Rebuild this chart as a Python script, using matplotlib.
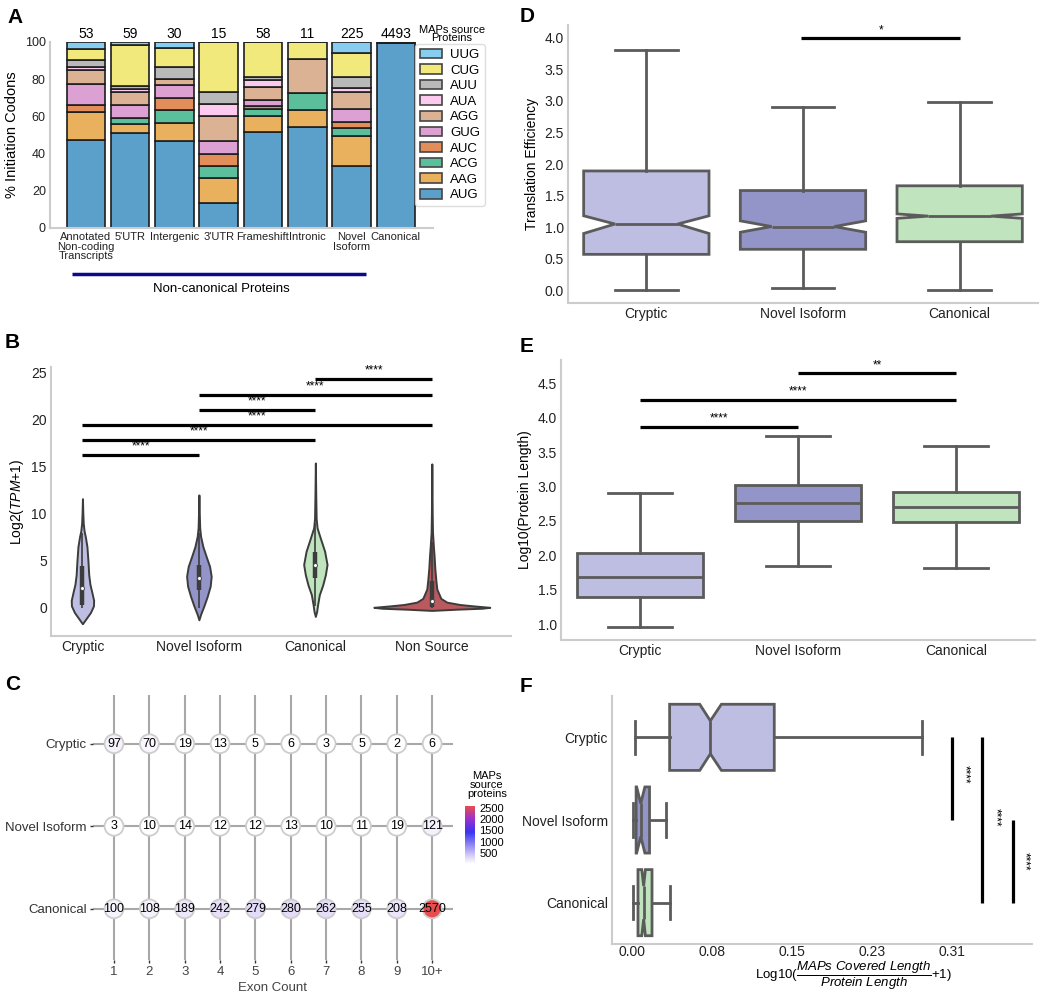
import numpy as np
import matplotlib
matplotlib.use("Agg")
import matplotlib.pyplot as plt
from matplotlib.colors import LinearSegmentedColormap, Normalize
from matplotlib.cm import ScalarMappable
from matplotlib.patches import Patch

W, H = 1050, 997

plt.rcParams['font.family'] = ['Liberation Sans', 'DejaVu Sans']
plt.rcParams['mathtext.fontset'] = 'custom'
plt.rcParams['mathtext.rm'] = 'Liberation Sans'
plt.rcParams['mathtext.it'] = 'Liberation Sans:italic'
plt.rcParams['mathtext.bf'] = 'Liberation Sans:bold'

# ---- A: initiation codons per source category (protein counts) ----
source_groups = ["Annotated\nNon-coding\nTranscripts", "5'UTR", "Intergenic", "3'UTR",
                 "Frameshift", "Intronic", "Novel\nIsoform", "Canonical"]
codons = ["AUG", "AAG", "ACG", "AUC", "GUG", "AGG", "AUA", "AUU", "CUG", "UUG"]
aug = [25, 30, 14, 2, 30, 6, 75, 4460]
aag = [8, 3, 3, 2, 5, 1, 36, 5]
acg = [0, 2, 2, 1, 2, 1, 10, 3]
auc = [2, 0, 2, 1, 1, 0, 7, 2]
gug = [6, 4, 2, 1, 2, 0, 16, 5]
agg = [4, 4, 1, 2, 4, 2, 21, 3]
aua = [1, 1, 0, 1, 2, 0, 4, 2]
auu = [2, 1, 2, 1, 1, 0, 14, 3]
cug = [3, 13, 3, 4, 11, 1, 29, 8]
uug = [2, 1, 1, 0, 0, 0, 13, 2]
codon_colors = ["#5b9fcb", "#e9b05e", "#5cbf9c", "#e38e5a", "#dda0d2",
                "#dbb394", "#fbcaee", "#b9b9b9", "#f1e97c", "#86cdf0"]

# ---- B: expression violins (shape read as half-widths, px) ----
tpm_groups = ["Cryptic", "Novel Isoform", "Canonical", "Non Source"]
cryptic_tpm_y = [-1.7, -1.1, -0.5, 0.2, 0.8, 1.6, 2.5, 3.5, 5.0, 6.5, 7.5, 8.2, 9.0, 10.0, 11.6]
cryptic_tpm_w = [0, 4.0, 8.0, 11.0, 11.2, 9.5, 7.5, 6.3, 5.5, 4.5, 3.0, 1.6, 0.8, 0.4, 0]
novel_tpm_y = [-1.28, -0.7, 0.2, 1.2, 2.3, 3.35, 4.4, 5.45, 6.5, 7.6, 8.5, 10.0, 12.0]
novel_tpm_w = [0, 1.7, 5.0, 8.3, 11.3, 12.3, 10.7, 7.3, 4.0, 1.7, 0.8, 0.4, 0]
canonical_tpm_y = [-0.92, -0.4, 0.36, 1.4, 2.4, 3.5, 4.6, 6.0, 7.4, 8.5, 9.5, 12.0, 15.4]
canonical_tpm_w = [0, 1.3, 2.3, 4.0, 7.3, 10.0, 11.7, 9.3, 5.0, 1.7, 0.8, 0.4, 0]
nonsource_tpm_y = [-0.28, -0.15, -0.05, 0.05, 0.2, 0.35, 0.6, 1.0, 2.0, 3.0, 4.2, 5.5, 6.5, 8.0, 10.0, 15.3]
nonsource_tpm_w = [0, 25, 50, 58, 42, 28, 15, 9, 5, 4, 3, 2.3, 1.6, 0.7, 0.4, 0]
tpm_px_per_group = 116.5
tpm_q1 = [0.25, 1.9, 3.2, 0.05]
tpm_med = [2.15, 3.2, 4.5, 0.75]
tpm_q3 = [4.4, 4.5, 5.9, 2.8]
tpm_lo = [0.0, 0.0, 0.2, 0.0]
tpm_hi = [8.0, 8.0, 9.0, 7.0]
tpm_sig = [(0, 1, 16.2), (0, 2, 17.8), (0, 3, 19.4), (1, 2, 21.0), (1, 3, 22.6), (2, 3, 24.3)]
group_colors = ["#bdbee2", "#9394c8", "#bfe4be", "#bb5a5e"]

# ---- C: exon count ----
exon_labels = ["1", "2", "3", "4", "5", "6", "7", "8", "9", "10+"]
cryptic_exons = [97, 70, 19, 13, 5, 6, 3, 5, 2, 6]
novel_exons = [3, 10, 14, 12, 12, 13, 10, 11, 19, 121]
canonical_exons = [100, 108, 189, 242, 279, 280, 262, 255, 208, 2570]

# ---- D: translation efficiency (box stats) ----
box_groups = ["Cryptic", "Novel Isoform", "Canonical"]
te_whislo = [0.0, 0.04, 0.0]
te_q1 = [0.57, 0.65, 0.77]
te_med = [1.05, 1.01, 1.175]
te_q3 = [1.89, 1.58, 1.655]
te_whishi = [3.8, 2.9, 2.975]
te_cilo = [0.90, 0.92, 1.14]
te_cihi = [1.18, 1.10, 1.21]

# ---- E: protein length ----
len_whislo = [0.96, 1.85, 1.82]
len_q1 = [1.39, 2.50, 2.48]
len_med = [1.68, 2.76, 2.70]
len_q3 = [2.03, 3.02, 2.92]
len_whishi = [2.90, 3.73, 3.59]
len_sig = [(0, 1, 3.87, "****"), (0, 2, 4.26, "****"), (1, 2, 4.65, "**")]

# ---- F: MAPs coverage ----
cov_whislo = [0.003, 0.001, 0.001]
cov_q1 = [0.0365, 0.004, 0.0058]
cov_med = [0.076, 0.0085, 0.0113]
cov_q3 = [0.138, 0.017, 0.0194]
cov_whishi = [0.2816, 0.033, 0.0364]
cov_cilo = [0.0657, 0.0045, 0.0095]
cov_cihi = [0.0867, 0.0125, 0.013]
cov_ticks = [0.0, 0.0775, 0.155, 0.2325, 0.31]
cov_sig = [(0, 1, 0.3107, 0.322, 0.45), (0, 2, 0.3398, 0.352, 0.97), (1, 2, 0.3696, 0.381, 1.5)]

EDGE = "#5b5b5b"


def add_px_axes(fig, left, top, right, bottom):
    return fig.add_axes([left / W, 1 - bottom / H, (right - left) / W, (bottom - top) / H])


def clean_axes(ax, size=10):
    for s in ["top", "right"]:
        ax.spines[s].set_visible(False)
    for s in ["left", "bottom"]:
        ax.spines[s].set_color("#cccccc")
        ax.spines[s].set_linewidth(1.5)
    ax.tick_params(length=0, labelsize=size, colors="#222222", pad=3)


def plot_codons(fig):
    ax = add_px_axes(fig, 50, 42, 433, 228)
    clean_axes(ax, 9)
    counts = np.array([aug, aag, acg, auc, gug, agg, aua, auu, cug, uug], dtype=float)
    totals = counts.sum(axis=0)
    pct = counts / totals * 100
    x = np.arange(len(source_groups))
    bottom = np.zeros(len(x))
    for vals, col in zip(pct, codon_colors):
        ax.bar(x, vals, bottom=bottom, width=0.87, color=col, edgecolor="#1e1e1e", linewidth=1.2)
        bottom += vals
    for i, t in enumerate(totals):
        ax.text(i, 100.6, f"{int(t)}", ha="center", va="bottom", fontsize=10)
    ax.set_xlim(-0.81, 7.84)
    ax.set_ylim(0, 100)
    ax.set_xticks(x)
    ax.set_xticklabels(source_groups, fontsize=8, linespacing=0.95)
    ax.set_yticks(range(0, 101, 20))
    ax.set_ylabel("% Initiation Codons", fontsize=10.5, labelpad=4)

    handles = [Patch(facecolor=c, edgecolor="#444444", linewidth=1.2) for c in codon_colors][::-1]
    leg = ax.legend(handles, codons[::-1], loc="upper left", bbox_to_anchor=(415 / W, 1 - 44 / H),
                    bbox_transform=fig.transFigure, fontsize=9.5, handlelength=1.7, handleheight=0.75,
                    labelspacing=0.24, handletextpad=0.6, borderpad=0.35, borderaxespad=0,
                    frameon=True, fancybox=True)
    leg.get_frame().set_edgecolor("#d6d6d6")
    fig.text(452 / W, 1 - 34 / H, "MAPs source\nProteins", ha="center", va="center",
             fontsize=8, linespacing=0.85)

    trans = ax.get_xaxis_transform()
    ax.plot([-0.32, 6.33], [-0.245, -0.245], color="#0a0a8a", lw=2.5, transform=trans,
            clip_on=False, solid_capstyle="butt")
    ax.text(3.07, -0.33, "Non-canonical Proteins", ha="center", va="center", fontsize=9.5,
            transform=trans)


def plot_tpm(fig):
    ax = add_px_axes(fig, 51, 367, 511, 636)
    clean_axes(ax, 10)
    shapes = [(cryptic_tpm_y, cryptic_tpm_w), (novel_tpm_y, novel_tpm_w),
              (canonical_tpm_y, canonical_tpm_w), (nonsource_tpm_y, nonsource_tpm_w)]
    stats, widths = [], []
    for i, (ys, ws) in enumerate(shapes):
        stats.append(dict(coords=np.array(ys), vals=np.array(ws, dtype=float), mean=tpm_med[i],
                          median=tpm_med[i], min=min(ys), max=max(ys)))
        widths.append(2 * max(ws) / tpm_px_per_group)
    pos = np.arange(len(tpm_groups))
    parts = ax.violin(stats, positions=pos, widths=widths, showmeans=False,
                      showextrema=False, showmedians=False)
    for body, col in zip(parts["bodies"], group_colors):
        body.set_facecolor(col)
        body.set_edgecolor("#3c3c3c")
        body.set_linewidth(1.4)
        body.set_alpha(1)
    ax.vlines(pos, tpm_lo, tpm_hi, color="#3c3c3c", lw=1.2, zorder=3)
    ax.vlines(pos, tpm_q1, tpm_q3, color="#3c3c3c", lw=3.2, zorder=3)
    ax.scatter(pos, tpm_med, s=8, color="white", edgecolor="#3c3c3c", linewidth=0.6, zorder=4)
    for i, j, y in tpm_sig:
        ax.plot([i, j], [y, y], color="black", lw=2.3, solid_capstyle="butt")
        ax.text((i + j) / 2, y + 0.3, "****", ha="center", va="bottom", fontsize=8.5)
    ax.set_xlim(-0.27, 3.68)
    ax.set_ylim(-3.0, 25.6)
    ax.set_xticks(pos)
    ax.set_xticklabels(tpm_groups)
    ax.set_yticks(range(0, 26, 5))
    ax.set_ylabel("Log2($\\mathit{TPM}$+1)", fontsize=10)


def plot_exons(fig):
    ax = add_px_axes(fig, 93, 695, 453, 960)
    for s in ax.spines.values():
        s.set_visible(False)
    cmap = LinearSegmentedColormap.from_list(
        "maps", [(0, "#ffffff"), (0.12, "#e0d6f7"), (0.55, "#3a34f0"), (0.78, "#9a30cf"),
                 (1, "#e84c4c")])
    norm = Normalize(vmin=2, vmax=2590)
    x = np.arange(1, len(exon_labels) + 1)
    rows = [canonical_exons, novel_exons, cryptic_exons]
    for r, vals in enumerate(rows):
        ax.scatter(x, [r] * len(x), c=vals, cmap=cmap, norm=norm, s=185,
                   edgecolors="#cdcdcd", linewidths=1.3, zorder=3)
        for xi, v in zip(x, vals):
            ax.text(xi, r, str(v), ha="center", va="center", fontsize=9, zorder=4)
    ax.set_xlim(0.405, 10.59)
    ax.set_ylim(-0.62, 2.59)
    ax.set_xticks(x)
    ax.set_xticklabels(exon_labels)
    ax.set_yticks([0, 1, 2])
    ax.set_yticklabels(["Canonical", "Novel Isoform", "Cryptic"])
    ax.grid(True, color="#a8a8a8", lw=1.5, zorder=0)
    ax.set_axisbelow(True)
    ax.tick_params(length=2.5, width=1, color="#333333", labelsize=9.5, colors="#333333", pad=2)
    ax.tick_params(axis="x", labelcolor="#444444")
    ax.set_xlabel("Exon Count", fontsize=9.5, color="#444444", labelpad=3)

    cax = add_px_axes(fig, 465, 806, 475, 864)
    cb = fig.colorbar(ScalarMappable(norm=norm, cmap=cmap), cax=cax)
    cb.outline.set_visible(False)
    cb.set_ticks([500, 1000, 1500, 2000, 2500])
    cb.ax.tick_params(labelsize=8, length=2, color="white", pad=1)
    fig.text(487 / W, 1 - 785 / H, "MAPs\nsource\nproteins", ha="center", va="center",
             fontsize=8, linespacing=0.9)


def box_stats(lo, q1, med, q3, hi, cilo=None, cihi=None):
    out = []
    for i, name in enumerate(box_groups):
        d = dict(label=name, whislo=lo[i], q1=q1[i], med=med[i], q3=q3[i], whishi=hi[i], fliers=[])
        if cilo is not None:
            d["cilo"] = cilo[i]
            d["cihi"] = cihi[i]
        out.append(d)
    return out


def draw_boxes(ax, stats, notch, orientation="vertical"):
    line = dict(color=EDGE, linewidth=2)
    bp = ax.bxp(stats, positions=[0, 1, 2], widths=0.8, patch_artist=True, shownotches=notch,
                showfliers=False, orientation=orientation,
                boxprops=dict(edgecolor=EDGE, linewidth=2), whiskerprops=line, capprops=line,
                medianprops=line)
    for patch, col in zip(bp["boxes"], group_colors):
        patch.set_facecolor(col)


def plot_te(fig):
    ax = add_px_axes(fig, 568, 25, 1038, 303)
    clean_axes(ax, 10)
    draw_boxes(ax, box_stats(te_whislo, te_q1, te_med, te_q3, te_whishi, te_cilo, te_cihi), True)
    ax.plot([0.99, 2.0], [3.99, 3.99], color="black", lw=2.3, solid_capstyle="butt")
    ax.text(1.5, 4.02, "*", ha="center", va="bottom", fontsize=8.5)
    ax.set_xlim(-0.5, 2.5)
    ax.set_ylim(-0.2, 4.2)
    ax.set_yticks(np.arange(0, 4.01, 0.5))
    ax.set_ylabel("Translation Efficiency", fontsize=10)


def plot_length(fig):
    ax = add_px_axes(fig, 561, 360, 1035, 640)
    clean_axes(ax, 10)
    draw_boxes(ax, box_stats(len_whislo, len_q1, len_med, len_q3, len_whishi), False)
    for i, j, y, lab in len_sig:
        ax.plot([i, j], [y, y], color="black", lw=2.3, solid_capstyle="butt")
        ax.text((i + j) / 2, y + 0.03, lab, ha="center", va="bottom", fontsize=8.5)
    ax.set_xlim(-0.5, 2.5)
    ax.set_ylim(0.77, 4.84)
    ax.set_yticks(np.arange(1.0, 4.51, 0.5))
    ax.set_ylabel("Log10(Protein Length)", fontsize=10)


def plot_coverage(fig):
    ax = add_px_axes(fig, 612, 696, 1032, 944)
    clean_axes(ax, 10)
    ax.tick_params(axis="x", pad=1)
    draw_boxes(ax, box_stats(cov_whislo, cov_q1, cov_med, cov_q3, cov_whishi, cov_cilo, cov_cihi),
               True, orientation="horizontal")
    for i, j, x, tx, ty in cov_sig:
        ax.plot([x, x], [i, j], color="black", lw=2.3, solid_capstyle="butt")
        ax.text(tx, ty, "****", rotation=270, ha="center", va="center", fontsize=8.5)
    ax.set_xlim(-0.0194, 0.388)
    ax.set_ylim(2.5, -0.5)
    ax.set_xticks(cov_ticks)
    ax.set_xticklabels([f"{t:.2f}" for t in cov_ticks])
    ax.set_xlabel("Log10($\\dfrac{MAPs\\ Covered\\ Length}{Protein\\ Length}$+1)", fontsize=9.5)
    ax.xaxis.set_label_coords(0.574, -0.066)


def main():
    fig = plt.figure(figsize=(W / 100, H / 100), dpi=100)
    plot_codons(fig)
    plot_tpm(fig)
    plot_exons(fig)
    plot_te(fig)
    plot_length(fig)
    plot_coverage(fig)
    for lab, x, y in [("A", 7, 8), ("B", 5, 333), ("C", 5, 675),
                      ("D", 520, 7), ("E", 520, 337), ("F", 520, 677)]:
        fig.text(x / W, 1 - y / H, lab, ha="left", va="top", fontsize=15, fontweight="bold")
    fig.savefig("out.png", dpi=100)


if __name__ == "__main__":
    main()
